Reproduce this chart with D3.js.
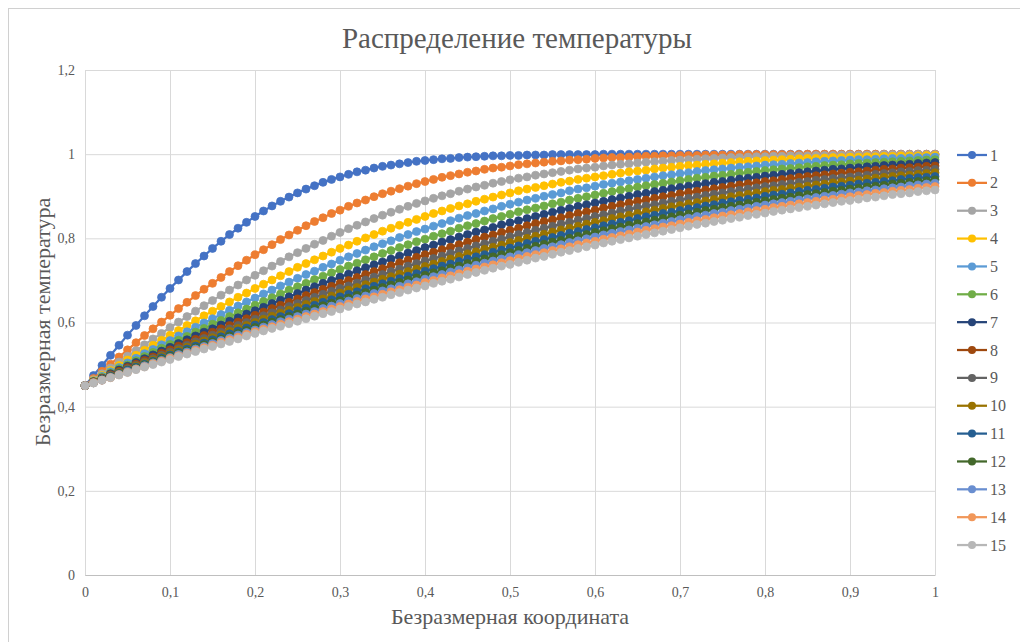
<!DOCTYPE html>
<html>
<head>
<meta charset="utf-8">
<script src="https://cdn.jsdelivr.net/npm/d3@7"></script>
<style>
  body { margin: 0; background: #fff; }
  svg { font-family: "Liberation Serif", "DejaVu Serif", serif; }
</style>
</head>
<body>
<svg id="chart" width="1020" height="642"></svg>
<script>
// x coordinate of every point (dimensionless coordinate)
var coords = [
  0,0.01,0.02,0.03,0.04,0.05,0.06,0.07,0.08,0.09,
  0.1,0.11,0.12,0.13,0.14,0.15,0.16,0.17,0.18,0.19,
  0.2,0.21,0.22,0.23,0.24,0.25,0.26,0.27,0.28,0.29,
  0.3,0.31,0.32,0.33,0.34,0.35,0.36,0.37,0.38,0.39,
  0.4,0.41,0.42,0.43,0.44,0.45,0.46,0.47,0.48,0.49,
  0.5,0.51,0.52,0.53,0.54,0.55,0.56,0.57,0.58,0.59,
  0.6,0.61,0.62,0.63,0.64,0.65,0.66,0.67,0.68,0.69,
  0.7,0.71,0.72,0.73,0.74,0.75,0.76,0.77,0.78,0.79,
  0.8,0.81,0.82,0.83,0.84,0.85,0.86,0.87,0.88,0.89,
  0.9,0.91,0.92,0.93,0.94,0.95,0.96,0.97,0.98,0.99,
  1
];

var s1 = [
  0.45,0.474,0.498,0.522,0.546,0.57,0.593,0.616,0.638,0.66,
  0.681,0.701,0.721,0.74,0.758,0.776,0.793,0.809,0.824,0.838,
  0.852,0.865,0.877,0.888,0.898,0.908,0.917,0.925,0.933,0.94,
  0.946,0.952,0.958,0.962,0.967,0.971,0.974,0.977,0.98,0.983,
  0.985,0.987,0.989,0.99,0.992,0.993,0.994,0.995,0.996,0.996,
  0.997,0.997,0.998,0.998,0.998,0.999,0.999,0.999,0.999,0.999,
  0.999,1,1,1,1,1,1,1,1,1,
  1,1,1,1,1,1,1,1,1,1,
  1,1,1,1,1,1,1,1,1,1,
  1,1,1,1,1,1,1,1,1,1,
  1
];
var s2 = [
  0.45,0.467,0.484,0.501,0.518,0.535,0.552,0.569,0.585,0.601,
  0.617,0.633,0.648,0.664,0.679,0.693,0.707,0.721,0.735,0.748,
  0.761,0.773,0.785,0.797,0.808,0.819,0.83,0.84,0.849,0.859,
  0.867,0.876,0.884,0.891,0.899,0.906,0.912,0.918,0.924,0.93,
  0.935,0.94,0.945,0.949,0.953,0.957,0.96,0.964,0.967,0.969,
  0.972,0.975,0.977,0.979,0.981,0.983,0.984,0.986,0.987,0.988,
  0.99,0.991,0.992,0.992,0.993,0.994,0.995,0.995,0.996,0.996,
  0.997,0.997,0.997,0.998,0.998,0.998,0.998,0.999,0.999,0.999,
  0.999,0.999,0.999,0.999,0.999,1,1,1,1,1,
  1,1,1,1,1,1,1,1,1,1,
  1
];
var s3 = [
  0.45,0.464,0.478,0.492,0.506,0.52,0.533,0.547,0.561,0.574,
  0.588,0.601,0.614,0.627,0.64,0.652,0.665,0.677,0.689,0.701,
  0.712,0.723,0.734,0.745,0.756,0.766,0.776,0.786,0.795,0.805,
  0.814,0.823,0.831,0.839,0.847,0.855,0.862,0.869,0.876,0.883,
  0.889,0.895,0.901,0.906,0.912,0.917,0.922,0.926,0.931,0.935,
  0.939,0.943,0.946,0.95,0.953,0.956,0.959,0.962,0.965,0.967,
  0.969,0.972,0.974,0.976,0.977,0.979,0.981,0.982,0.983,0.985,
  0.986,0.987,0.988,0.989,0.99,0.991,0.992,0.992,0.993,0.994,
  0.994,0.995,0.995,0.996,0.996,0.996,0.997,0.997,0.997,0.998,
  0.998,0.998,0.998,0.998,0.999,0.999,0.999,0.999,0.999,0.999,
  0.999
];
var s4 = [
  0.45,0.462,0.474,0.486,0.498,0.511,0.522,0.534,0.546,0.558,
  0.57,0.581,0.593,0.604,0.616,0.627,0.638,0.649,0.66,0.67,
  0.681,0.691,0.701,0.711,0.721,0.731,0.74,0.749,0.758,0.767,
  0.776,0.784,0.793,0.801,0.809,0.817,0.824,0.831,0.838,0.845,
  0.852,0.859,0.865,0.871,0.877,0.882,0.888,0.893,0.898,0.903,
  0.908,0.913,0.917,0.921,0.925,0.929,0.933,0.936,0.94,0.943,
  0.946,0.949,0.952,0.955,0.958,0.96,0.962,0.965,0.967,0.969,
  0.971,0.973,0.974,0.976,0.977,0.979,0.98,0.982,0.983,0.984,
  0.985,0.986,0.987,0.988,0.989,0.99,0.99,0.991,0.992,0.992,
  0.993,0.993,0.994,0.994,0.995,0.995,0.996,0.996,0.996,0.997,
  0.997
];
var s5 = [
  0.45,0.461,0.472,0.483,0.493,0.504,0.515,0.526,0.536,0.547,
  0.557,0.568,0.578,0.589,0.599,0.609,0.619,0.629,0.639,0.649,
  0.658,0.668,0.677,0.687,0.696,0.705,0.714,0.722,0.731,0.739,
  0.748,0.756,0.764,0.772,0.78,0.787,0.794,0.802,0.809,0.816,
  0.822,0.829,0.835,0.842,0.848,0.854,0.859,0.865,0.87,0.876,
  0.881,0.886,0.891,0.895,0.9,0.904,0.908,0.913,0.917,0.92,
  0.924,0.928,0.931,0.934,0.937,0.94,0.943,0.946,0.949,0.951,
  0.954,0.956,0.959,0.961,0.963,0.965,0.967,0.969,0.97,0.972,
  0.974,0.975,0.976,0.978,0.979,0.98,0.982,0.983,0.984,0.985,
  0.986,0.987,0.987,0.988,0.989,0.99,0.99,0.991,0.992,0.992,
  0.993
];
var s6 = [
  0.45,0.46,0.47,0.48,0.49,0.499,0.509,0.519,0.529,0.539,
  0.548,0.558,0.567,0.577,0.586,0.596,0.605,0.614,0.623,0.632,
  0.641,0.65,0.659,0.668,0.677,0.685,0.693,0.702,0.71,0.718,
  0.726,0.734,0.741,0.749,0.756,0.764,0.771,0.778,0.785,0.792,
  0.798,0.805,0.811,0.817,0.824,0.83,0.835,0.841,0.847,0.852,
  0.857,0.863,0.868,0.872,0.877,0.882,0.886,0.891,0.895,0.899,
  0.903,0.907,0.911,0.915,0.918,0.922,0.925,0.928,0.931,0.934,
  0.937,0.94,0.943,0.945,0.948,0.95,0.952,0.955,0.957,0.959,
  0.961,0.963,0.965,0.966,0.968,0.97,0.971,0.973,0.974,0.975,
  0.977,0.978,0.979,0.98,0.981,0.982,0.983,0.984,0.985,0.986,
  0.987
];
var s7 = [
  0.45,0.459,0.468,0.478,0.487,0.496,0.505,0.514,0.523,0.532,
  0.541,0.55,0.559,0.568,0.577,0.585,0.594,0.603,0.611,0.62,
  0.628,0.636,0.645,0.653,0.661,0.669,0.677,0.685,0.693,0.7,
  0.708,0.715,0.723,0.73,0.737,0.744,0.751,0.758,0.765,0.771,
  0.778,0.784,0.791,0.797,0.803,0.809,0.815,0.82,0.826,0.832,
  0.837,0.842,0.847,0.852,0.857,0.862,0.867,0.871,0.876,0.88,
  0.884,0.888,0.892,0.896,0.9,0.904,0.907,0.911,0.914,0.918,
  0.921,0.924,0.927,0.93,0.933,0.935,0.938,0.941,0.943,0.945,
  0.948,0.95,0.952,0.954,0.956,0.958,0.96,0.962,0.964,0.965,
  0.967,0.968,0.97,0.971,0.973,0.974,0.975,0.976,0.978,0.979,
  0.98
];
var s8 = [
  0.45,0.459,0.467,0.476,0.484,0.493,0.501,0.51,0.518,0.527,
  0.535,0.544,0.552,0.56,0.569,0.577,0.585,0.593,0.601,0.609,
  0.617,0.625,0.633,0.641,0.648,0.656,0.664,0.671,0.679,0.686,
  0.693,0.7,0.707,0.714,0.721,0.728,0.735,0.742,0.748,0.755,
  0.761,0.767,0.773,0.779,0.785,0.791,0.797,0.803,0.808,0.814,
  0.819,0.824,0.83,0.835,0.84,0.844,0.849,0.854,0.859,0.863,
  0.867,0.872,0.876,0.88,0.884,0.888,0.891,0.895,0.899,0.902,
  0.906,0.909,0.912,0.915,0.918,0.921,0.924,0.927,0.93,0.932,
  0.935,0.937,0.94,0.942,0.945,0.947,0.949,0.951,0.953,0.955,
  0.957,0.958,0.96,0.962,0.964,0.965,0.967,0.968,0.969,0.971,
  0.972
];
var s9 = [
  0.45,0.458,0.466,0.474,0.482,0.49,0.498,0.506,0.514,0.522,
  0.53,0.538,0.546,0.554,0.562,0.57,0.577,0.585,0.593,0.6,
  0.608,0.616,0.623,0.63,0.638,0.645,0.652,0.66,0.667,0.674,
  0.681,0.687,0.694,0.701,0.708,0.714,0.721,0.727,0.734,0.74,
  0.746,0.752,0.758,0.764,0.77,0.776,0.782,0.787,0.793,0.798,
  0.804,0.809,0.814,0.819,0.824,0.829,0.834,0.838,0.843,0.847,
  0.852,0.856,0.86,0.865,0.869,0.873,0.877,0.88,0.884,0.888,
  0.891,0.895,0.898,0.902,0.905,0.908,0.911,0.914,0.917,0.92,
  0.923,0.925,0.928,0.93,0.933,0.935,0.938,0.94,0.942,0.944,
  0.946,0.948,0.95,0.952,0.954,0.956,0.958,0.959,0.961,0.962,
  0.964
];
var s10 = [
  0.45,0.458,0.465,0.473,0.481,0.488,0.496,0.504,0.511,0.519,
  0.526,0.534,0.541,0.549,0.556,0.564,0.571,0.579,0.586,0.593,
  0.6,0.608,0.615,0.622,0.629,0.636,0.643,0.65,0.656,0.663,
  0.67,0.677,0.683,0.69,0.696,0.703,0.709,0.715,0.721,0.727,
  0.733,0.739,0.745,0.751,0.757,0.763,0.768,0.774,0.779,0.784,
  0.79,0.795,0.8,0.805,0.81,0.815,0.82,0.824,0.829,0.834,
  0.838,0.842,0.847,0.851,0.855,0.859,0.863,0.867,0.871,0.875,
  0.878,0.882,0.885,0.889,0.892,0.895,0.899,0.902,0.905,0.908,
  0.911,0.914,0.916,0.919,0.922,0.924,0.927,0.929,0.932,0.934,
  0.936,0.938,0.941,0.943,0.945,0.947,0.949,0.95,0.952,0.954,
  0.956
];
var s11 = [
  0.45,0.457,0.465,0.472,0.479,0.487,0.494,0.501,0.508,0.516,
  0.523,0.53,0.537,0.544,0.551,0.559,0.566,0.573,0.58,0.587,
  0.594,0.6,0.607,0.614,0.621,0.628,0.634,0.641,0.648,0.654,
  0.661,0.667,0.673,0.68,0.686,0.692,0.698,0.704,0.71,0.716,
  0.722,0.728,0.734,0.739,0.745,0.751,0.756,0.761,0.767,0.772,
  0.777,0.782,0.788,0.793,0.797,0.802,0.807,0.812,0.816,0.821,
  0.825,0.83,0.834,0.838,0.842,0.847,0.851,0.855,0.859,0.862,
  0.866,0.87,0.873,0.877,0.88,0.884,0.887,0.89,0.893,0.896,
  0.9,0.903,0.905,0.908,0.911,0.914,0.916,0.919,0.922,0.924,
  0.926,0.929,0.931,0.933,0.935,0.937,0.94,0.942,0.944,0.945,
  0.947
];
var s12 = [
  0.45,0.457,0.464,0.471,0.478,0.485,0.492,0.499,0.506,0.513,
  0.52,0.527,0.533,0.54,0.547,0.554,0.561,0.568,0.574,0.581,
  0.588,0.594,0.601,0.607,0.614,0.62,0.627,0.633,0.64,0.646,
  0.652,0.658,0.665,0.671,0.677,0.683,0.689,0.695,0.701,0.706,
  0.712,0.718,0.723,0.729,0.734,0.74,0.745,0.751,0.756,0.761,
  0.766,0.771,0.776,0.781,0.786,0.791,0.795,0.8,0.805,0.809,
  0.814,0.818,0.823,0.827,0.831,0.835,0.839,0.843,0.847,0.851,
  0.855,0.858,0.862,0.866,0.869,0.873,0.876,0.879,0.883,0.886,
  0.889,0.892,0.895,0.898,0.901,0.904,0.906,0.909,0.912,0.914,
  0.917,0.919,0.922,0.924,0.926,0.929,0.931,0.933,0.935,0.937,
  0.939
];
var s13 = [
  0.45,0.457,0.463,0.47,0.477,0.484,0.49,0.497,0.504,0.51,
  0.517,0.524,0.53,0.537,0.543,0.55,0.557,0.563,0.57,0.576,
  0.582,0.589,0.595,0.602,0.608,0.614,0.62,0.626,0.633,0.639,
  0.645,0.651,0.657,0.663,0.669,0.675,0.68,0.686,0.692,0.697,
  0.703,0.709,0.714,0.72,0.725,0.73,0.736,0.741,0.746,0.751,
  0.756,0.761,0.766,0.771,0.776,0.78,0.785,0.79,0.794,0.799,
  0.803,0.808,0.812,0.816,0.82,0.824,0.828,0.832,0.836,0.84,
  0.844,0.848,0.852,0.855,0.859,0.862,0.866,0.869,0.872,0.876,
  0.879,0.882,0.885,0.888,0.891,0.894,0.897,0.9,0.902,0.905,
  0.908,0.91,0.913,0.915,0.918,0.92,0.922,0.925,0.927,0.929,
  0.931
];
var s14 = [
  0.45,0.457,0.463,0.469,0.476,0.482,0.489,0.495,0.502,0.508,
  0.515,0.521,0.527,0.534,0.54,0.546,0.553,0.559,0.565,0.572,
  0.578,0.584,0.59,0.596,0.602,0.608,0.614,0.62,0.626,0.632,
  0.638,0.644,0.65,0.656,0.661,0.667,0.673,0.678,0.684,0.689,
  0.695,0.7,0.706,0.711,0.716,0.722,0.727,0.732,0.737,0.742,
  0.747,0.752,0.757,0.761,0.766,0.771,0.775,0.78,0.785,0.789,
  0.793,0.798,0.802,0.806,0.81,0.815,0.819,0.823,0.827,0.83,
  0.834,0.838,0.842,0.845,0.849,0.853,0.856,0.859,0.863,0.866,
  0.869,0.873,0.876,0.879,0.882,0.885,0.888,0.891,0.893,0.896,
  0.899,0.902,0.904,0.907,0.909,0.912,0.914,0.916,0.919,0.921,
  0.923
];
var s15 = [
  0.45,0.456,0.463,0.469,0.475,0.481,0.488,0.494,0.5,0.506,
  0.512,0.519,0.525,0.531,0.537,0.543,0.549,0.555,0.561,0.568,
  0.574,0.58,0.586,0.591,0.597,0.603,0.609,0.615,0.621,0.626,
  0.632,0.638,0.644,0.649,0.655,0.66,0.666,0.671,0.677,0.682,
  0.687,0.693,0.698,0.703,0.708,0.714,0.719,0.724,0.729,0.734,
  0.738,0.743,0.748,0.753,0.757,0.762,0.767,0.771,0.776,0.78,
  0.784,0.789,0.793,0.797,0.801,0.805,0.809,0.813,0.817,0.821,
  0.825,0.829,0.833,0.836,0.84,0.843,0.847,0.85,0.854,0.857,
  0.86,0.864,0.867,0.87,0.873,0.876,0.879,0.882,0.885,0.888,
  0.89,0.893,0.896,0.898,0.901,0.904,0.906,0.908,0.911,0.913,
  0.915
];

var seriesNames = ["1","2","3","4","5","6","7","8","9","10","11","12","13","14","15"];
var seriesColors = ["#4472C4","#ED7D31","#A5A5A5","#FFC000","#5B9BD5","#70AD47","#264478",
  "#9E480E","#636363","#997300","#255E91","#43682B","#698ED0","#F1975A","#B7B7B7"];
var xTickValues = [0,0.1,0.2,0.3,0.4,0.5,0.6,0.7,0.8,0.9,1];
var xTickLabels = ["0","0,1","0,2","0,3","0,4","0,5","0,6","0,7","0,8","0,9","1"];
var yTickValues = [0,0.2,0.4,0.6,0.8,1,1.2];
var yTickLabels = ["0","0,2","0,4","0,6","0,8","1","1,2"];

var titleText = "Распределение температуры";
var xTitle = "Безразмерная координата";
var yTitle = "Безразмерная температура";

var allSeries = [s1,s2,s3,s4,s5,s6,s7,s8,s9,s10,s11,s12,s13,s14,s15];

var textColor = "#595959";
var gridColor = "#d9d9d9";

var plot = {left: 85, right: 935, top: 70, bottom: 575};

var svg = d3.select("#chart");

// chart border (cut by the picture on the right and bottom)
svg.append("rect")
  .attr("x", 8.5).attr("y", 8.5)
  .attr("width", 1040).attr("height", 660)
  .attr("fill", "#fff")
  .attr("stroke", "#d0d0d0");

var x = d3.scaleLinear().domain([0, 1]).range([plot.left, plot.right]);
var y = d3.scaleLinear().domain([0, 1.2]).range([plot.bottom, plot.top]);

// gridlines
var xGrid = d3.axisBottom(x)
  .tickValues(xTickValues)
  .tickSize(-(plot.bottom - plot.top))
  .tickFormat("");
svg.append("g")
  .attr("class", "x grid")
  .attr("transform", "translate(0," + plot.bottom + ")")
  .call(xGrid)
  .call(function(g) {
    g.select(".domain").remove();
    g.selectAll("line").attr("stroke", gridColor).attr("stroke-width", 1);
  });

var yGrid = d3.axisLeft(y)
  .tickValues(yTickValues)
  .tickSize(-(plot.right - plot.left))
  .tickFormat("");
svg.append("g")
  .attr("class", "y grid")
  .attr("transform", "translate(" + plot.left + ",0)")
  .call(yGrid)
  .call(function(g) {
    g.select(".domain").remove();
    g.selectAll("line").attr("stroke", gridColor).attr("stroke-width", 1);
  });

// axes with labels
var xAxis = d3.axisBottom(x)
  .tickValues(xTickValues)
  .tickSize(0)
  .tickPadding(12)
  .tickFormat(function(d, i) { return xTickLabels[i]; });
svg.append("g")
  .attr("class", "x axis")
  .attr("transform", "translate(0," + plot.bottom + ")")
  .call(xAxis)
  .call(function(g) {
    g.select(".domain").attr("stroke", "#bfbfbf");
    g.selectAll("text")
      .attr("fill", textColor)
      .style("font-size", "14px")
      .style("font-family", "'Liberation Serif', serif");
  });

var yAxis = d3.axisLeft(y)
  .tickValues(yTickValues)
  .tickSize(0)
  .tickPadding(10)
  .tickFormat(function(d, i) { return yTickLabels[i]; });
svg.append("g")
  .attr("class", "y axis")
  .attr("transform", "translate(" + plot.left + ",0)")
  .call(yAxis)
  .call(function(g) {
    g.select(".domain").remove();
    g.selectAll("text")
      .attr("fill", textColor)
      .style("font-size", "14px")
      .style("font-family", "'Liberation Serif', serif");
  });

// series: line + markers
var line = d3.line()
  .x(function(d, i) { return x(coords[i]); })
  .y(function(d) { return y(d); });

var seriesG = svg.append("g").attr("class", "series");
allSeries.forEach(function(vals, k) {
  var g = seriesG.append("g");
  g.append("path")
    .datum(vals)
    .attr("d", line)
    .attr("fill", "none")
    .attr("stroke", seriesColors[k])
    .attr("stroke-width", 2.25);
  g.selectAll("circle")
    .data(vals)
    .enter().append("circle")
    .attr("cx", function(d, i) { return x(coords[i]); })
    .attr("cy", function(d) { return y(d); })
    .attr("r", 4)
    .attr("fill", seriesColors[k])
    .attr("stroke", seriesColors[k])
    .attr("stroke-width", 0.75);
});

// title
svg.append("text")
  .attr("x", 517).attr("y", 48)
  .attr("text-anchor", "middle")
  .attr("fill", textColor)
  .style("font-size", "29px")
  .text(titleText);

// axis titles
svg.append("text")
  .attr("x", 510).attr("y", 624)
  .attr("text-anchor", "middle")
  .attr("fill", textColor)
  .style("font-size", "22px")
  .text(xTitle);

svg.append("text")
  .attr("transform", "translate(50,322) rotate(-90)")
  .attr("text-anchor", "middle")
  .attr("fill", textColor)
  .style("font-size", "22px")
  .text(yTitle);

// legend
var legend = svg.append("g").attr("class", "legend");
var legendItem = legend.selectAll("g")
  .data(seriesNames)
  .enter().append("g")
  .attr("transform", function(d, i) { return "translate(957," + (155 + i * 27.86) + ")"; });
legendItem.append("line")
  .attr("x1", 0).attr("x2", 30)
  .attr("stroke", function(d, i) { return seriesColors[i]; })
  .attr("stroke-width", 2.25);
legendItem.append("circle")
  .attr("cx", 15).attr("r", 4)
  .attr("fill", function(d, i) { return seriesColors[i]; });
legendItem.append("text")
  .attr("x", 33).attr("dy", "0.35em")
  .attr("fill", textColor)
  .style("font-size", "16px")
  .text(function(d) { return d; });
</script>
</body>
</html>
